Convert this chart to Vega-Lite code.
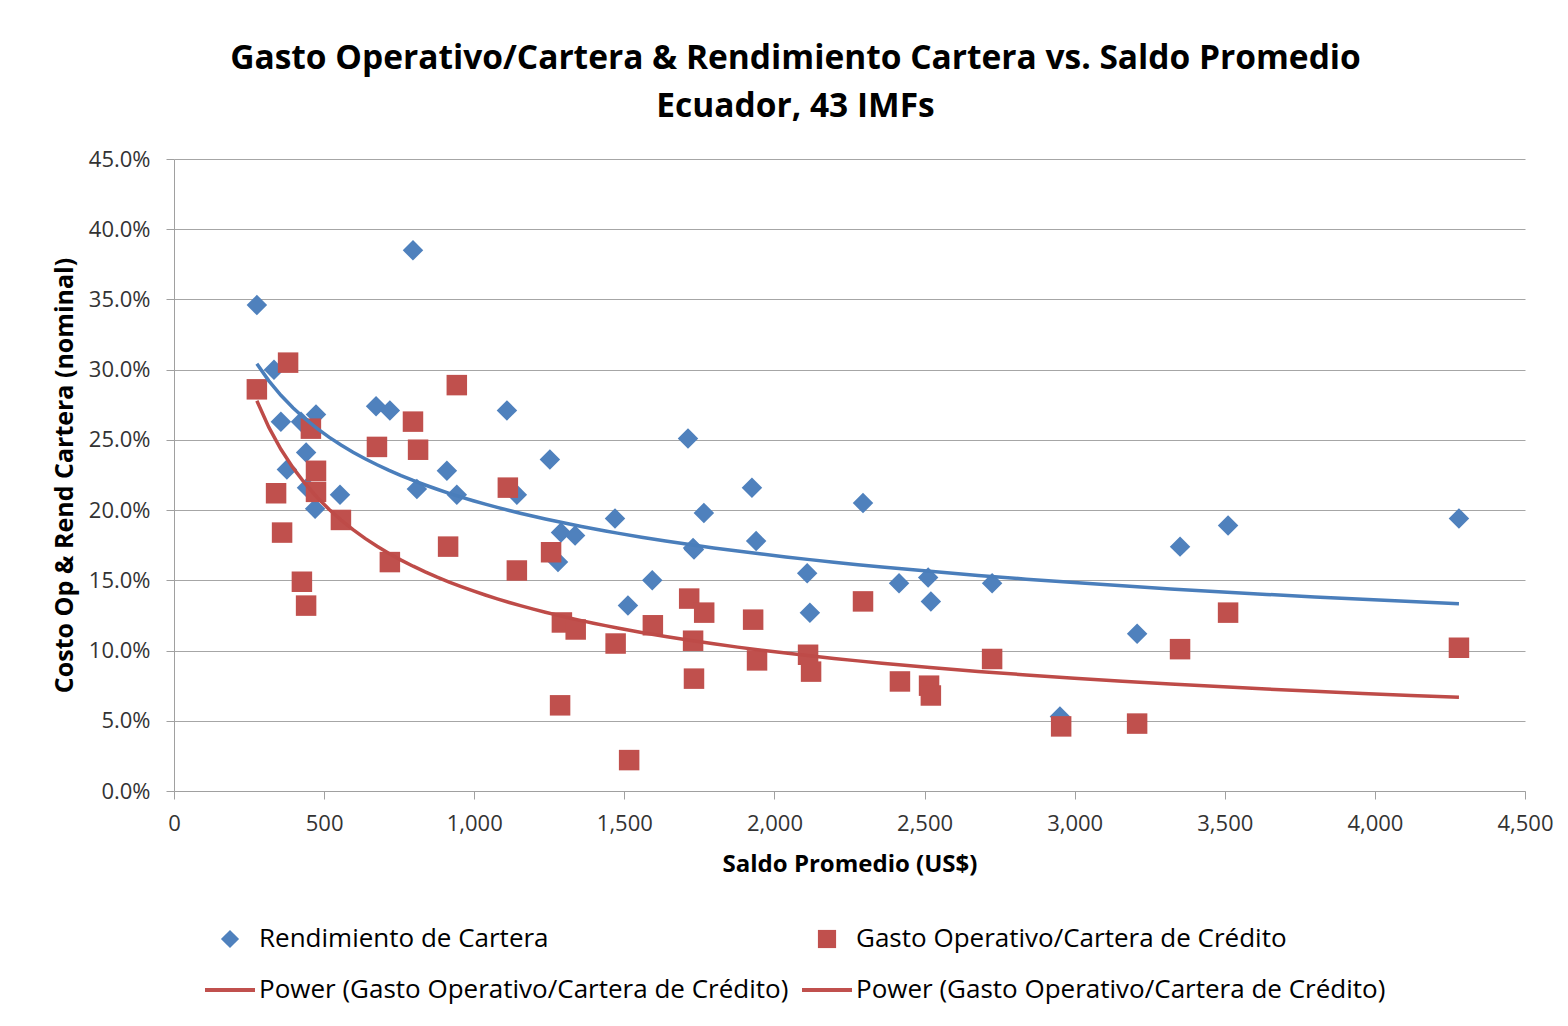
{
  "$schema": "https://vega.github.io/schema/vega-lite/v6.json",
  "width": 1351,
  "height": 632,
  "autosize": {"type": "none"},
  "padding": {"left": 174, "top": 159, "right": 43, "bottom": 235},
  "background": "white",
  "config": {"font": "Open Sans", "view": {"stroke": null}},
  "title": {
    "text": ["Gasto Operativo/Cartera & Rendimiento Cartera vs. Saldo Promedio", "Ecuador, 43 IMFs"],
    "fontSize": 33.5,
    "fontWeight": "bold",
    "font": "Open Sans",
    "color": "#000000",
    "lineHeight": 48,
    "anchor": "middle",
    "dx": -54,
    "offset": 24
  },
  "data": {
    "values": [
      {"saldo": 276, "serie": "Rendimiento de Cartera", "valor": 0.346},
      {"saldo": 333, "serie": "Rendimiento de Cartera", "valor": 0.300},
      {"saldo": 356, "serie": "Rendimiento de Cartera", "valor": 0.263},
      {"saldo": 423, "serie": "Rendimiento de Cartera", "valor": 0.263},
      {"saldo": 473, "serie": "Rendimiento de Cartera", "valor": 0.268},
      {"saldo": 440, "serie": "Rendimiento de Cartera", "valor": 0.241},
      {"saldo": 376, "serie": "Rendimiento de Cartera", "valor": 0.229},
      {"saldo": 443, "serie": "Rendimiento de Cartera", "valor": 0.216},
      {"saldo": 470, "serie": "Rendimiento de Cartera", "valor": 0.201},
      {"saldo": 553, "serie": "Rendimiento de Cartera", "valor": 0.211},
      {"saldo": 673, "serie": "Rendimiento de Cartera", "valor": 0.274},
      {"saldo": 719, "serie": "Rendimiento de Cartera", "valor": 0.271},
      {"saldo": 796, "serie": "Rendimiento de Cartera", "valor": 0.385},
      {"saldo": 809, "serie": "Rendimiento de Cartera", "valor": 0.215},
      {"saldo": 909, "serie": "Rendimiento de Cartera", "valor": 0.228},
      {"saldo": 942, "serie": "Rendimiento de Cartera", "valor": 0.211},
      {"saldo": 1109, "serie": "Rendimiento de Cartera", "valor": 0.271},
      {"saldo": 1142, "serie": "Rendimiento de Cartera", "valor": 0.211},
      {"saldo": 1252, "serie": "Rendimiento de Cartera", "valor": 0.236},
      {"saldo": 1289, "serie": "Rendimiento de Cartera", "valor": 0.184},
      {"saldo": 1279, "serie": "Rendimiento de Cartera", "valor": 0.163},
      {"saldo": 1336, "serie": "Rendimiento de Cartera", "valor": 0.182},
      {"saldo": 1469, "serie": "Rendimiento de Cartera", "valor": 0.194},
      {"saldo": 1512, "serie": "Rendimiento de Cartera", "valor": 0.132},
      {"saldo": 1593, "serie": "Rendimiento de Cartera", "valor": 0.150},
      {"saldo": 1712, "serie": "Rendimiento de Cartera", "valor": 0.251},
      {"saldo": 1765, "serie": "Rendimiento de Cartera", "valor": 0.198},
      {"saldo": 1729, "serie": "Rendimiento de Cartera", "valor": 0.173},
      {"saldo": 1732, "serie": "Rendimiento de Cartera", "valor": 0.172},
      {"saldo": 1925, "serie": "Rendimiento de Cartera", "valor": 0.216},
      {"saldo": 1939, "serie": "Rendimiento de Cartera", "valor": 0.178},
      {"saldo": 2109, "serie": "Rendimiento de Cartera", "valor": 0.155},
      {"saldo": 2118, "serie": "Rendimiento de Cartera", "valor": 0.127},
      {"saldo": 2295, "serie": "Rendimiento de Cartera", "valor": 0.205},
      {"saldo": 2415, "serie": "Rendimiento de Cartera", "valor": 0.148},
      {"saldo": 2512, "serie": "Rendimiento de Cartera", "valor": 0.152},
      {"saldo": 2521, "serie": "Rendimiento de Cartera", "valor": 0.135},
      {"saldo": 2725, "serie": "Rendimiento de Cartera", "valor": 0.148},
      {"saldo": 2951, "serie": "Rendimiento de Cartera", "valor": 0.053},
      {"saldo": 3208, "serie": "Rendimiento de Cartera", "valor": 0.112},
      {"saldo": 3351, "serie": "Rendimiento de Cartera", "valor": 0.174},
      {"saldo": 3511, "serie": "Rendimiento de Cartera", "valor": 0.189},
      {"saldo": 4280, "serie": "Rendimiento de Cartera", "valor": 0.194},
      {"saldo": 276, "serie": "Gasto Operativo/Cartera de Crédito", "valor": 0.286},
      {"saldo": 380, "serie": "Gasto Operativo/Cartera de Crédito", "valor": 0.305},
      {"saldo": 456, "serie": "Gasto Operativo/Cartera de Crédito", "valor": 0.258},
      {"saldo": 473, "serie": "Gasto Operativo/Cartera de Crédito", "valor": 0.228},
      {"saldo": 473, "serie": "Gasto Operativo/Cartera de Crédito", "valor": 0.213},
      {"saldo": 340, "serie": "Gasto Operativo/Cartera de Crédito", "valor": 0.212},
      {"saldo": 360, "serie": "Gasto Operativo/Cartera de Crédito", "valor": 0.184},
      {"saldo": 426, "serie": "Gasto Operativo/Cartera de Crédito", "valor": 0.149},
      {"saldo": 440, "serie": "Gasto Operativo/Cartera de Crédito", "valor": 0.132},
      {"saldo": 556, "serie": "Gasto Operativo/Cartera de Crédito", "valor": 0.193},
      {"saldo": 676, "serie": "Gasto Operativo/Cartera de Crédito", "valor": 0.245},
      {"saldo": 719, "serie": "Gasto Operativo/Cartera de Crédito", "valor": 0.163},
      {"saldo": 796, "serie": "Gasto Operativo/Cartera de Crédito", "valor": 0.263},
      {"saldo": 813, "serie": "Gasto Operativo/Cartera de Crédito", "valor": 0.243},
      {"saldo": 942, "serie": "Gasto Operativo/Cartera de Crédito", "valor": 0.289},
      {"saldo": 913, "serie": "Gasto Operativo/Cartera de Crédito", "valor": 0.174},
      {"saldo": 1112, "serie": "Gasto Operativo/Cartera de Crédito", "valor": 0.216},
      {"saldo": 1142, "serie": "Gasto Operativo/Cartera de Crédito", "valor": 0.157},
      {"saldo": 1256, "serie": "Gasto Operativo/Cartera de Crédito", "valor": 0.170},
      {"saldo": 1292, "serie": "Gasto Operativo/Cartera de Crédito", "valor": 0.120},
      {"saldo": 1338, "serie": "Gasto Operativo/Cartera de Crédito", "valor": 0.115},
      {"saldo": 1286, "serie": "Gasto Operativo/Cartera de Crédito", "valor": 0.061},
      {"saldo": 1471, "serie": "Gasto Operativo/Cartera de Crédito", "valor": 0.105},
      {"saldo": 1516, "serie": "Gasto Operativo/Cartera de Crédito", "valor": 0.022},
      {"saldo": 1595, "serie": "Gasto Operativo/Cartera de Crédito", "valor": 0.118},
      {"saldo": 1716, "serie": "Gasto Operativo/Cartera de Crédito", "valor": 0.137},
      {"saldo": 1766, "serie": "Gasto Operativo/Cartera de Crédito", "valor": 0.127},
      {"saldo": 1729, "serie": "Gasto Operativo/Cartera de Crédito", "valor": 0.107},
      {"saldo": 1732, "serie": "Gasto Operativo/Cartera de Crédito", "valor": 0.080},
      {"saldo": 1929, "serie": "Gasto Operativo/Cartera de Crédito", "valor": 0.122},
      {"saldo": 1942, "serie": "Gasto Operativo/Cartera de Crédito", "valor": 0.093},
      {"saldo": 2112, "serie": "Gasto Operativo/Cartera de Crédito", "valor": 0.097},
      {"saldo": 2122, "serie": "Gasto Operativo/Cartera de Crédito", "valor": 0.085},
      {"saldo": 2295, "serie": "Gasto Operativo/Cartera de Crédito", "valor": 0.135},
      {"saldo": 2418, "serie": "Gasto Operativo/Cartera de Crédito", "valor": 0.078},
      {"saldo": 2515, "serie": "Gasto Operativo/Cartera de Crédito", "valor": 0.075},
      {"saldo": 2521, "serie": "Gasto Operativo/Cartera de Crédito", "valor": 0.068},
      {"saldo": 2725, "serie": "Gasto Operativo/Cartera de Crédito", "valor": 0.094},
      {"saldo": 2955, "serie": "Gasto Operativo/Cartera de Crédito", "valor": 0.046},
      {"saldo": 3208, "serie": "Gasto Operativo/Cartera de Crédito", "valor": 0.048},
      {"saldo": 3351, "serie": "Gasto Operativo/Cartera de Crédito", "valor": 0.101},
      {"saldo": 3511, "serie": "Gasto Operativo/Cartera de Crédito", "valor": 0.127},
      {"saldo": 4280, "serie": "Gasto Operativo/Cartera de Crédito", "valor": 0.102}
    ]
  },
  "layer": [
    {
      "mark": {"type": "point", "filled": true, "opacity": 1, "size": 420},
      "encoding": {
        "x": {
          "field": "saldo",
          "type": "quantitative",
          "scale": {"domain": [0, 4500], "nice": false},
          "axis": {
            "title": "Saldo Promedio (US$)",
            "titleFontSize": 24,
            "titleFontWeight": "bold",
            "titleColor": "#000000",
            "titlePadding": 18,
            "values": [0, 500, 1000, 1500, 2000, 2500, 3000, 3500, 4000, 4500],
            "format": ",d",
            "labelFontSize": 22,
            "labelColor": "#333333",
            "labelPadding": 14,
            "labelFlush": false,
            "labelOverlap": false,
            "tickColor": "#A0A0A0",
            "tickSize": 8,
            "domainColor": "#A0A0A0",
            "grid": false
          }
        },
        "y": {
          "field": "valor",
          "type": "quantitative",
          "scale": {"domain": [0, 0.45], "nice": false},
          "axis": {
            "title": "Costo Op & Rend Cartera (nominal)",
            "titleFontSize": 25,
            "titleFontWeight": "bold",
            "titleColor": "#000000",
            "titlePadding": 11,
            "values": [0, 0.05, 0.1, 0.15, 0.2, 0.25, 0.3, 0.35, 0.4, 0.45],
            "format": ".1%",
            "labelFontSize": 22,
            "labelColor": "#333333",
            "labelPadding": 16,
            "labelFlush": false,
            "labelOverlap": false,
            "tickColor": "#A0A0A0",
            "tickSize": 8,
            "domainColor": "#A0A0A0",
            "grid": true,
            "gridColor": "#A6A6A6"
          }
        },
        "color": {
          "field": "serie",
          "type": "nominal",
          "scale": {
            "domain": ["Rendimiento de Cartera", "Gasto Operativo/Cartera de Crédito", "Power1", "Power2"],
            "range": ["#4F81BD", "#C0504D", "#C0504D", "#C0504D"]
          },
          "legend": {
            "orient": "none",
            "legendX": 31,
            "legendY": 767,
            "direction": "horizontal",
            "columns": 2,
            "title": null,
            "labelFontSize": 26,
            "labelFont": "Open Sans",
            "labelColor": "#000000",
            "labelLimit": 0,
            "symbolOffset": 12,
            "labelOffset": 16,
            "columnPadding": 5,
            "rowPadding": 25,
            "symbolSize": 2500,
            "symbolOpacity": 1,
            "labelExpr": "datum.value === 'Power1' || datum.value === 'Power2' ? 'Power (Gasto Operativo/Cartera de Crédito)' : datum.label",
            "encode": {
              "symbols": {
                "update": {
                  "size": {"signal": "datum.value === 'Power1' || datum.value === 'Power2' ? 2500 : 330"},
                  "stroke": {"signal": "datum.value === 'Power1' || datum.value === 'Power2' ? '#C0504D' : 'transparent'"},
                  "strokeWidth": {"signal": "datum.value === 'Power1' || datum.value === 'Power2' ? 4 : 0"}
                }
              }
            }
          }
        },
        "shape": {
          "field": "serie",
          "type": "nominal",
          "scale": {
            "domain": ["Rendimiento de Cartera", "Gasto Operativo/Cartera de Crédito", "Power1", "Power2"],
            "range": ["diamond", "square", "stroke", "stroke"]
          }
        }
      }
    },
    {
      "transform": [
        {"filter": "datum.serie === 'Rendimiento de Cartera'"},
        {"regression": "valor", "on": "saldo", "method": "pow"}
      ],
      "mark": {"type": "line", "color": "#4A7EBB", "strokeWidth": 3.5},
      "encoding": {
        "x": {"field": "saldo", "type": "quantitative"},
        "y": {"field": "valor", "type": "quantitative"}
      }
    },
    {
      "transform": [
        {"filter": "datum.serie === 'Gasto Operativo/Cartera de Crédito'"},
        {"regression": "valor", "on": "saldo", "method": "pow"}
      ],
      "mark": {"type": "line", "color": "#BE4B48", "strokeWidth": 3.5},
      "encoding": {
        "x": {"field": "saldo", "type": "quantitative"},
        "y": {"field": "valor", "type": "quantitative"}
      }
    }
  ]
}
